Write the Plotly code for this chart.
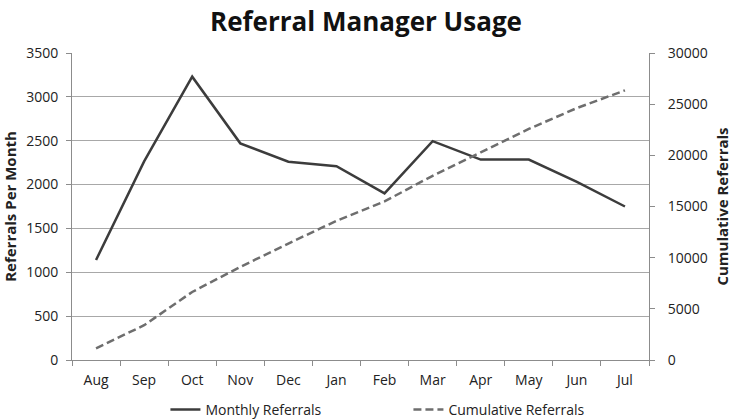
import plotly.graph_objects as go

# --- Data ---
MONTHS = ["Aug", "Sep", "Oct", "Nov", "Dec", "Jan", "Feb", "Mar", "Apr", "May", "Jun", "Jul"]
MONTHLY = [1140, 2265, 3230, 2470, 2260, 2210, 1900, 2495, 2285, 2285, 2030, 1750]
CUMULATIVE = [1140, 3400, 6650, 9100, 11380, 13600, 15500, 18000, 20300, 22580, 24620, 26350]

# --- Style ---
DARK = "#3c3c3c"
DASH_GRAY = "#6e6e6e"
GRID = "#a8a8a8"
AXIS = "#8c8c8c"
FONT = "Open Sans"

fig = go.Figure()
fig.add_trace(go.Scatter(
    x=MONTHS, y=MONTHLY, name="Monthly Referrals", mode="lines",
    line=dict(color=DARK, width=2.5),
))
fig.add_trace(go.Scatter(
    x=MONTHS, y=CUMULATIVE, name="Cumulative Referrals", mode="lines", yaxis="y2",
    line=dict(color=DASH_GRAY, width=2.5, dash="8px,4px"),
))

fig.update_layout(
    width=732, height=420,
    paper_bgcolor="white", plot_bgcolor="white",
    font=dict(family=FONT, color="#222", size=14),
    margin=dict(l=72, r=83, t=53, b=60),
    title=dict(text="<b>Referral Manager Usage</b>", x=0.5, xanchor="center",
               y=0.948, yanchor="middle", font=dict(size=26, color="#111")),
    xaxis=dict(
        type="category", tickson="boundaries", ticks="outside", ticklen=5,
        tickcolor=AXIS, showline=True, linecolor=AXIS, showgrid=False,
        tickfont=dict(size=14), range=[-0.5, 11.5], automargin=False,
        ticklabelstandoff=7,
    ),
    yaxis=dict(
        range=[0, 3500], dtick=500, ticks="outside", ticklen=5, tickcolor=AXIS,
        showline=True, linecolor=AXIS, gridcolor=GRID, zeroline=False,
        automargin=False, tickfont=dict(size=14), ticklabelstandoff=5,
        title=dict(text="<b>Referrals Per Month</b>", font=dict(size=15), standoff=12),
    ),
    yaxis2=dict(
        overlaying="y", side="right", range=[0, 30000], dtick=5000, tickformat="d",
        ticks="outside", ticklen=5, tickcolor=AXIS, showline=True,
        linecolor=AXIS, showgrid=False, zeroline=False, automargin=False,
        tickfont=dict(size=14), ticklabelstandoff=10,
        title=dict(text="<b>Cumulative Referrals</b>", font=dict(size=15), standoff=20),
    ),
    legend=dict(orientation="h", xref="container", x=0.226, xanchor="left",
                yref="container", y=0.024, yanchor="middle",
                bgcolor="rgba(0,0,0,0)", font=dict(size=14),
                entrywidth=198, entrywidthmode="pixels"),
    showlegend=True,
)

fig.write_html("out.html", config={"displayModeBar": False},
               post_script="document.body.style.margin = '0';")
